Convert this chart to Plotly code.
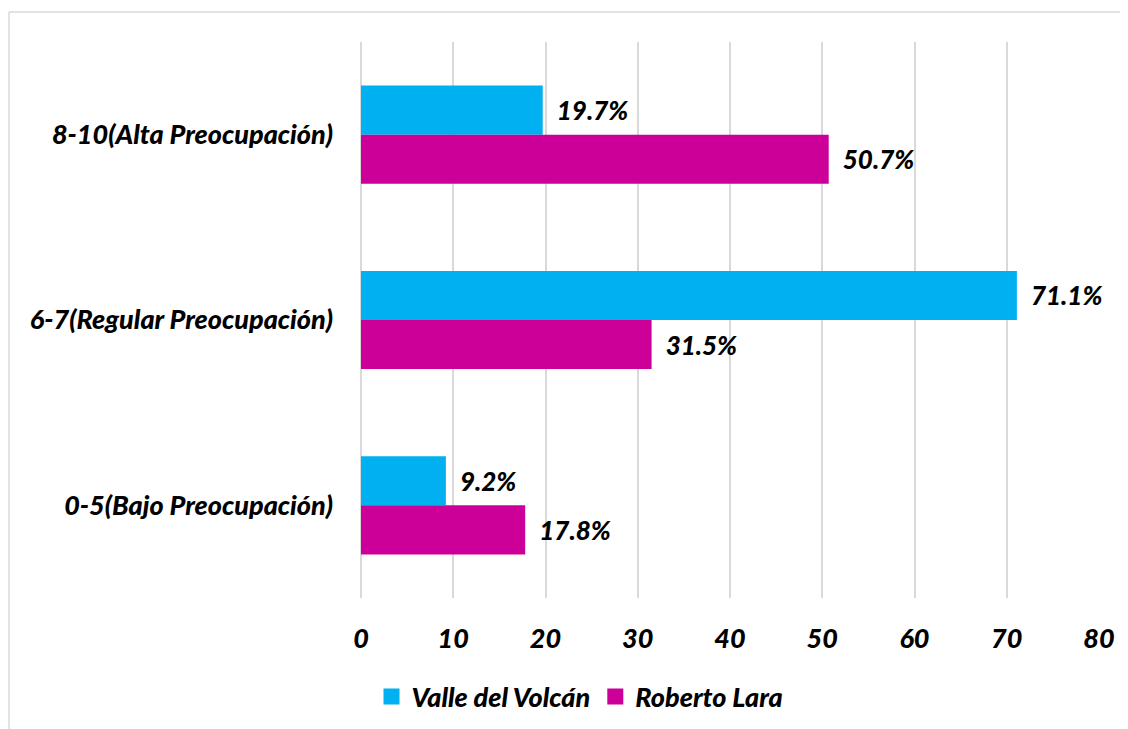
import plotly.graph_objects as go

categories = ["8-10(Alta Preocupación)", "6-7(Regular Preocupación)", "0-5(Bajo Preocupación)"]
valle = [19.7, 71.1, 9.2]
roberto = [50.7, 31.5, 17.8]
series_names = ["Valle del Volcán", "Roberto Lara"]
colors = ["#00B0F0", "#CC0099"]
x_ticks = [0, 10, 20, 30, 40, 50, 60, 70, 80]

FONT = "Lato"
WT = 900
OFF = 8  # page body margin
W, H = 1128 - OFF, 729 - OFF
L, R, T, B = 361 - OFF, 29, 42 - OFF, 131

fig = go.Figure()
for name, vals, col in zip(series_names, [valle, roberto], colors):
    fig.add_trace(go.Bar(
        y=categories, x=vals, name=name, orientation="h", showlegend=False,
        marker=dict(color=col, line=dict(width=0)),
        text=[f"  {v:.1f}%" for v in vals], textposition="outside",
        textfont=dict(family=FONT, size=26, color="black", weight=WT, style="italic"),
        cliponaxis=False,
    ))
for name, col in zip(series_names, colors):
    fig.add_trace(go.Scatter(x=[None], y=[None], mode="markers", name=name,
                             marker=dict(symbol="square", size=16, color=col)))

pw = W - L - R
ph = H - T - B
fig.update_layout(
    width=W, height=H,
    margin=dict(l=L, r=R, t=T, b=B, pad=0, autoexpand=False),
    paper_bgcolor="white", plot_bgcolor="white",
    barmode="group", bargap=0.47, bargroupgap=0,
    font=dict(family=FONT, color="black"),
    showlegend=True,
    legend=dict(orientation="h", x=(580 - OFF - L) / pw, xanchor="center",
                y=-(697 - OFF - (H - B)) / ph, yanchor="middle",
                font=dict(family=FONT, size=27, color="black", weight=WT, style="italic"),
                traceorder="normal", itemwidth=30),
    xaxis=dict(range=[0, 80], tickvals=x_ticks, showgrid=True, gridcolor="#D9D9D9", gridwidth=1.5,
               zeroline=True, zerolinecolor="#D9D9D9", zerolinewidth=1.5, showline=False,
               ticks="", ticklen=0, automargin=False, ticklabelstandoff=22,
               tickfont=dict(family=FONT, size=27, color="black", weight=WT, style="italic")),
    yaxis=dict(autorange="reversed", showgrid=False, zeroline=False, showline=False, ticks="",
               ticklabelstandoff=27, automargin=False,
               tickfont=dict(family=FONT, size=27, color="black", weight=WT, style="italic")),
    shapes=[
        dict(type="line", xref="paper", yref="paper",
             x0=(9 - OFF - L) / pw, x1=(W - L) / pw, y0=1 + (T - (12 - OFF)) / ph, y1=1 + (T - (12 - OFF)) / ph,
             line=dict(color="#D9D9D9", width=1.5)),
        dict(type="line", xref="paper", yref="paper",
             x0=(9 - OFF - L) / pw, x1=(9 - OFF - L) / pw, y0=1 + (T - (12 - OFF)) / ph, y1=-(H - T - ph) / ph,
             line=dict(color="#D9D9D9", width=1.5)),
    ],
)

fig.write_html("out.html")
